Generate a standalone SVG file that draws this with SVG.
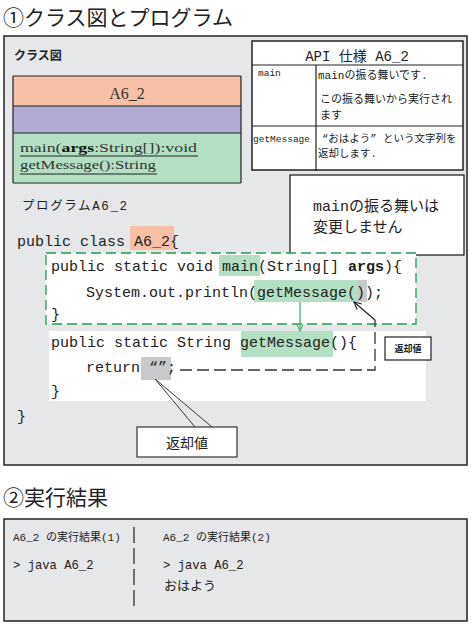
<svg xmlns="http://www.w3.org/2000/svg" width="471" height="624" viewBox="0 0 471 624">
<defs>
<style>
.jp{font-family:"Noto Sans CJK JP","Noto Sans",sans-serif;fill:#222}
.mj{font-family:"Liberation Mono","Noto Sans CJK JP",monospace;fill:#222}
.code{font-family:"Liberation Mono","Noto Sans CJK JP",monospace;font-size:15px;fill:#222}
.ser{font-family:"Liberation Serif","Noto Sans CJK JP",serif;fill:#333}
.box{fill:#e6e7e9;stroke:#222;stroke-width:1.5}
.ln{stroke:#222;stroke-width:1.2;fill:none}
</style>
<marker id="ga" viewBox="0 0 10 10" refX="9" refY="5" markerWidth="8" markerHeight="8" orient="auto" markerUnits="userSpaceOnUse">
<path d="M1,1 L9,5 L1,9" fill="none" stroke="#4caf6a" stroke-width="1.3"/>
</marker>
<marker id="ka" viewBox="0 0 10 10" refX="9" refY="5" markerWidth="9" markerHeight="9" orient="auto" markerUnits="userSpaceOnUse">
<path d="M1,1 L9,5 L1,9" fill="none" stroke="#222" stroke-width="1.3"/>
</marker>
</defs>
<rect width="471" height="624" fill="#fff"/>

<text class="jp" x="3" y="25" font-size="21">①クラス図とプログラム</text>
<rect id="panel1" class="box" x="4" y="36" width="463" height="429"/>
<text class="jp" x="14" y="60" font-size="12" font-weight="bold">クラス図</text>

<g id="class-A6_2">
<rect x="13" y="76" width="228" height="30" fill="#f9c0a8"/>
<rect x="13" y="106" width="228" height="27" fill="#b1acd6"/>
<rect x="13" y="133" width="228" height="50" fill="#b3dfc3"/>
<path class="ln" d="M13,76 H241 M13,106 H241 M13,133 H241 M13,183 H241 M13,76 V183 M241,76 V183"/>
<text class="ser" x="127" y="99" font-size="16" text-anchor="middle">A6_2</text>
<text class="ser" x="20" y="152" font-size="13" textLength="177" lengthAdjust="spacingAndGlyphs">main(<tspan font-weight="bold" fill="#111">args</tspan>:String[]):void</text>
<line class="ln" x1="20" y1="156" x2="198" y2="156"/>
<text class="ser" x="20" y="169" font-size="13" textLength="136" lengthAdjust="spacingAndGlyphs">getMessage():String</text>
<line class="ln" x1="20" y1="174" x2="157" y2="174"/>
</g>

<g id="api-table">
<rect x="252" y="41" width="211" height="129" fill="#fff" stroke="#222" stroke-width="1.5"/>
<path class="ln" d="M252,65 H463 M252,126 H463 M316,65 V171"/>
<text class="mj" x="357" y="61" font-size="14" text-anchor="middle">API 仕様 A6_2</text>
<text class="mj" x="258" y="76" font-size="9.5">main</text>
<text class="mj" x="318" y="79" font-size="11">mainの振る舞いです.</text>
<text class="mj" x="320" y="103" font-size="11">この振る舞いから実行され</text>
<text class="mj" x="320" y="119" font-size="11">ます</text>
<text class="mj" x="253" y="142" font-size="9.5">getMessage</text>
<text class="mj" x="322" y="142" font-size="10.5">“おはよう” という文字列を</text>
<text class="mj" x="318" y="157" font-size="10.5">返却します.</text>
</g>

<g id="note">
<rect x="290" y="175" width="174" height="80" fill="#fff" stroke="#222" stroke-width="1.3"/>
<text class="mj" x="313" y="211" font-size="15">mainの振る舞いは</text>
<text class="mj" x="313" y="232" font-size="15">変更しません</text>
</g>

<text class="mj" x="22" y="210" font-size="12.5" textLength="105" lengthAdjust="spacing">プログラムA6_2</text>

<g id="program">
<rect x="130" y="226" width="44" height="24" fill="#f9c0a8"/>
<text class="code" x="17" y="246">public class A6_2{</text>
<g id="main-block">
<rect x="46" y="253" width="370" height="71" fill="#fff" stroke="#1f9e4e" stroke-width="1.3" stroke-dasharray="10 5"/>
<rect x="219" y="255" width="41" height="21" fill="#b3dfc3"/>
<rect x="254" y="280" width="113" height="22" fill="#c8c9cb"/>
<rect x="254" y="280" width="104" height="22" fill="#b3dfc3"/>
<text class="code" x="51" y="271">public static void main(String[] <tspan font-weight="bold">args</tspan>){</text>
<text class="code" x="86" y="297">System.out.println(getMessage());</text>
<text class="code" x="51" y="319">}</text>
</g>
<g id="getMessage-block">
<rect x="49" y="331" width="377" height="70" fill="#fff"/>
<rect x="241" y="331" width="92" height="26" fill="#b3dfc3"/>
<rect x="141" y="357" width="30" height="23" fill="#c8c9cb"/>
<text class="code" x="51" y="347">public static String getMessage(){</text>
<text class="code" x="86" y="372">return “”;</text>
<text class="code" x="51" y="396">}</text>
</g>
<text class="code" x="17" y="421">}</text>
</g>

<g id="connectors">
<line x1="300" y1="302" x2="300" y2="331" stroke="#4caf6a" stroke-width="1.3" marker-end="url(#ga)"/>
<path d="M180,370 H375 V320" fill="none" stroke="#333" stroke-width="1.3" stroke-dasharray="12 5"/>
<line x1="375" y1="320" x2="354" y2="302" stroke="#222" stroke-width="1.2" marker-end="url(#ka)"/>
<path d="M155,379 L195,427 M155,379 L212,427" fill="none" stroke="#333" stroke-width="1"/>
</g>

<g id="label-return-small">
<rect x="385" y="337" width="46" height="23" fill="#fff" stroke="#222" stroke-width="1.2"/>
<text class="jp" x="408" y="352" font-size="9" font-weight="bold" text-anchor="middle">返却値</text>
</g>

<g id="label-return">
<rect x="137" y="427" width="100" height="30" fill="#fff" stroke="#333" stroke-width="1.2"/>
<text class="jp" x="187" y="448" font-size="14" text-anchor="middle">返却値</text>
</g>

<text class="jp" x="3" y="505" font-size="21">②実行結果</text>
<g id="results">
<rect class="box" x="4" y="519" width="463" height="102"/>
<line x1="134" y1="527" x2="134" y2="608" stroke="#222" stroke-width="1.2" stroke-dasharray="16 5"/>
<text class="mj" x="13" y="541" font-size="11">A6_2 の実行結果(1)</text>
<text class="mj" x="163" y="541" font-size="11">A6_2 の実行結果(2)</text>
<text class="mj" x="13" y="569" font-size="12.2">&gt; java A6_2</text>
<text class="mj" x="163" y="569" font-size="12.2">&gt; java A6_2</text>
<text class="mj" x="164" y="590" font-size="13">おはよう</text>
</g>
</svg>
